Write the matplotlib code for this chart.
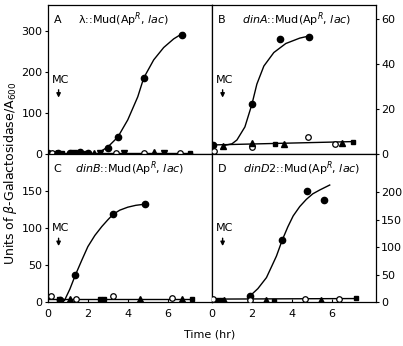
import matplotlib
matplotlib.use("Agg")
import matplotlib.pyplot as plt

# Panel A  lambda::Mud(ApR, lac)
A_mc_x = [0.0, 0.5, 1.1, 1.6, 2.0, 3.0, 3.5, 4.8, 6.7]
A_mc_y = [3, 3, 3, 4, 3, 15, 42, 185, 290]
A_open_x = [0.2, 3.4, 4.8, 6.6]
A_open_y = [2, 2, 2, 2]
A_tri_x = [0.4, 2.3, 5.3]
A_tri_y = [3, 3, 4]
A_itri_x = [1.3, 2.6, 3.8, 5.8]
A_itri_y = [2, 3, 2, 3]
A_sq_x = [0.7, 1.9, 7.1]
A_sq_y = [3, 2, 3]
A_curve_x = [2.6, 3.0, 3.5, 4.0, 4.5, 4.8, 5.3, 5.8, 6.3, 6.8]
A_curve_y = [5, 17, 41, 83, 139, 185, 229, 259, 280, 295]
A_base_x = [0.0, 7.2]
A_base_y = [3, 3]

# Panel B  dinA::Mud(ApR, lac)
B_mc_x = [0.03, 2.0, 3.4, 4.85]
B_mc_y = [4, 22, 51, 52]
B_open_x = [0.1, 2.0, 4.8, 6.15]
B_open_y = [1.5, 3, 7.7, 4.4]
B_tri_x = [0.55, 2.0, 3.6, 6.5]
B_tri_y = [3.6, 5, 4.6, 5]
B_sq_x = [0.03, 3.15, 7.05]
B_sq_y = [4, 4.6, 5.5]
B_curve_x = [0.57, 1.0, 1.25, 1.65, 2.0, 2.25, 2.6, 3.1, 3.7, 4.4, 4.9]
B_curve_y = [3.7, 4.5, 6.2, 12, 22, 31, 39, 45, 49, 51.4, 52.4]
B_base_x = [0.0, 7.1]
B_base_y = [4, 5.5]

# Panel C  dinB::Mud(ApR, lac)
C_mc_x = [0.6, 1.37, 3.27, 4.84]
C_mc_y = [3, 36.5, 118.5, 132]
C_open_x = [0.15, 1.4, 3.27, 6.2]
C_open_y = [8.5, 4, 8.5, 5.8]
C_tri_x = [1.1, 4.6, 6.7]
C_tri_y = [4, 4, 4]
C_sq_x = [0.57, 2.6, 2.8, 7.2]
C_sq_y = [4, 4, 4, 4.5]
C_curve_x = [0.83, 1.1, 1.37, 1.7, 2.0, 2.35, 2.7, 3.0, 3.27, 3.6, 4.0, 4.4, 4.84]
C_curve_y = [2.7, 18, 36.5, 57, 75, 90, 102, 111, 118.5, 124, 128, 130.5, 132]
C_base_x = [0.0, 7.2]
C_base_y = [5, 5]

# Panel D  dinD2::Mud(ApR, lac)
D_mc_x = [1.9, 3.52, 4.77, 5.6]
D_mc_y = [11.5, 113, 202, 186]
D_open_x = [0.03, 1.9, 4.65, 6.35]
D_open_y = [7, 4, 7, 7]
D_tri_x = [0.6, 2.73, 5.45]
D_tri_y = [5, 4, 4]
D_sq_x = [0.32, 0.48, 3.1, 7.2]
D_sq_y = [5, 5, 2.5, 8.5]
D_curve_x = [1.9, 2.3, 2.73, 3.0, 3.23, 3.52, 3.8, 4.07, 4.4, 4.73, 5.05, 5.4, 5.9]
D_curve_y = [11.5, 25, 45, 66, 84, 113, 137, 157, 174, 187, 197, 204, 213]
D_base_x = [0.0, 7.2]
D_base_y = [6, 7]

fig = plt.figure(figsize=(4.03, 3.46), dpi=100)

x0L, x0R, w = 0.119, 0.526, 0.406
y0T, y0B, h = 0.555, 0.126, 0.43
axA = fig.add_axes([x0L, y0T, w, h])
axB = fig.add_axes([x0R, y0T, w, h])
axC = fig.add_axes([x0L, y0B, w, h])
axD = fig.add_axes([x0R, y0B, w, h])

panels = [
    (axA, "A", r"λ::Mud(Ap$^R$, $\mathit{lac}$)", 0.46,
     A_mc_x, A_mc_y, A_open_x, A_open_y, A_tri_x, A_tri_y, A_sq_x, A_sq_y,
     A_curve_x, A_curve_y, A_base_x, A_base_y),
    (axB, "B", r"$\mathit{dinA}$::Mud(Ap$^R$, $\mathit{lac}$)", 0.52,
     B_mc_x, B_mc_y, B_open_x, B_open_y, B_tri_x, B_tri_y, B_sq_x, B_sq_y,
     B_curve_x, B_curve_y, B_base_x, B_base_y),
    (axC, "C", r"$\mathit{dinB}$::Mud(Ap$^R$, $\mathit{lac}$)", 0.5,
     C_mc_x, C_mc_y, C_open_x, C_open_y, C_tri_x, C_tri_y, C_sq_x, C_sq_y,
     C_curve_x, C_curve_y, C_base_x, C_base_y),
    (axD, "D", r"$\mathit{dinD2}$::Mud(Ap$^R$, $\mathit{lac}$)", 0.55,
     D_mc_x, D_mc_y, D_open_x, D_open_y, D_tri_x, D_tri_y, D_sq_x, D_sq_y,
     D_curve_x, D_curve_y, D_base_x, D_base_y),
]

for (ax, letter, title, tx, mx, my, ox, oy, trx, tr_y, sx, sy,
     cx, cy, bx, by) in panels:
    ax.plot(cx, cy, color="black", lw=1.0, zorder=2)
    ax.plot(bx, by, color="black", lw=1.0, zorder=2)
    ax.plot(mx, my, "o", color="black", ms=4.5, zorder=3)
    ax.plot(ox, oy, "o", mfc="white", mec="black", mew=0.9, ms=4.0, zorder=3)
    ax.plot(trx, tr_y, "^", color="black", ms=3.8, zorder=3)
    ax.plot(sx, sy, "s", color="black", ms=3.4, zorder=3)
    if ax is axA:
        ax.plot(A_itri_x, A_itri_y, "v", color="black", ms=3.8, zorder=3)
    ax.text(0.035, 0.9, letter, transform=ax.transAxes, fontsize=8,
            ha="left", va="center")
    ax.text(tx, 0.9, title, transform=ax.transAxes, fontsize=8,
            ha="center", va="center")
    # mitomycin C addition
    ax.text(0.075, 0.5, "MC", transform=ax.transAxes, fontsize=8,
            ha="center", va="center")
    ax.annotate("", xy=(0.065, 0.36), xytext=(0.065, 0.45),
                xycoords="axes fraction",
                arrowprops=dict(arrowstyle="-|>", color="black", lw=1.0,
                                mutation_scale=6))
    ax.set_xlim(0, 8.2)
    ax.tick_params(labelsize=8, length=2.5, width=0.8)
    ax.tick_params(axis="y", pad=1.5)
    for sp in ax.spines.values():
        sp.set_linewidth(0.9)

axA.set_ylim(0, 362)
axA.set_yticks([0, 100, 200, 300])
axB.set_ylim(0, 66)
axB.set_yticks([0, 20, 40, 60])
axC.set_ylim(0, 200)
axC.set_yticks([0, 50, 100, 150])
axD.set_ylim(0, 270)
axD.set_yticks([0, 50, 100, 150, 200])

for ax in [axB, axD]:
    ax.yaxis.tick_right()
for ax in [axA, axB]:
    ax.set_xticks([])
for ax in [axC, axD]:
    ax.set_xticks([0, 2, 4, 6])
    ax.tick_params(axis="x", direction="in", length=2, pad=5)

fig.text(0.025, 0.5, r"Units of $\beta$-Galactosidase/A$_{600}$", rotation=90,
         fontsize=9, ha="center", va="center")
fig.text(0.52, 0.032, "Time (hr)", fontsize=8, ha="center", va="center")

fig.savefig("out.png", dpi=100)
